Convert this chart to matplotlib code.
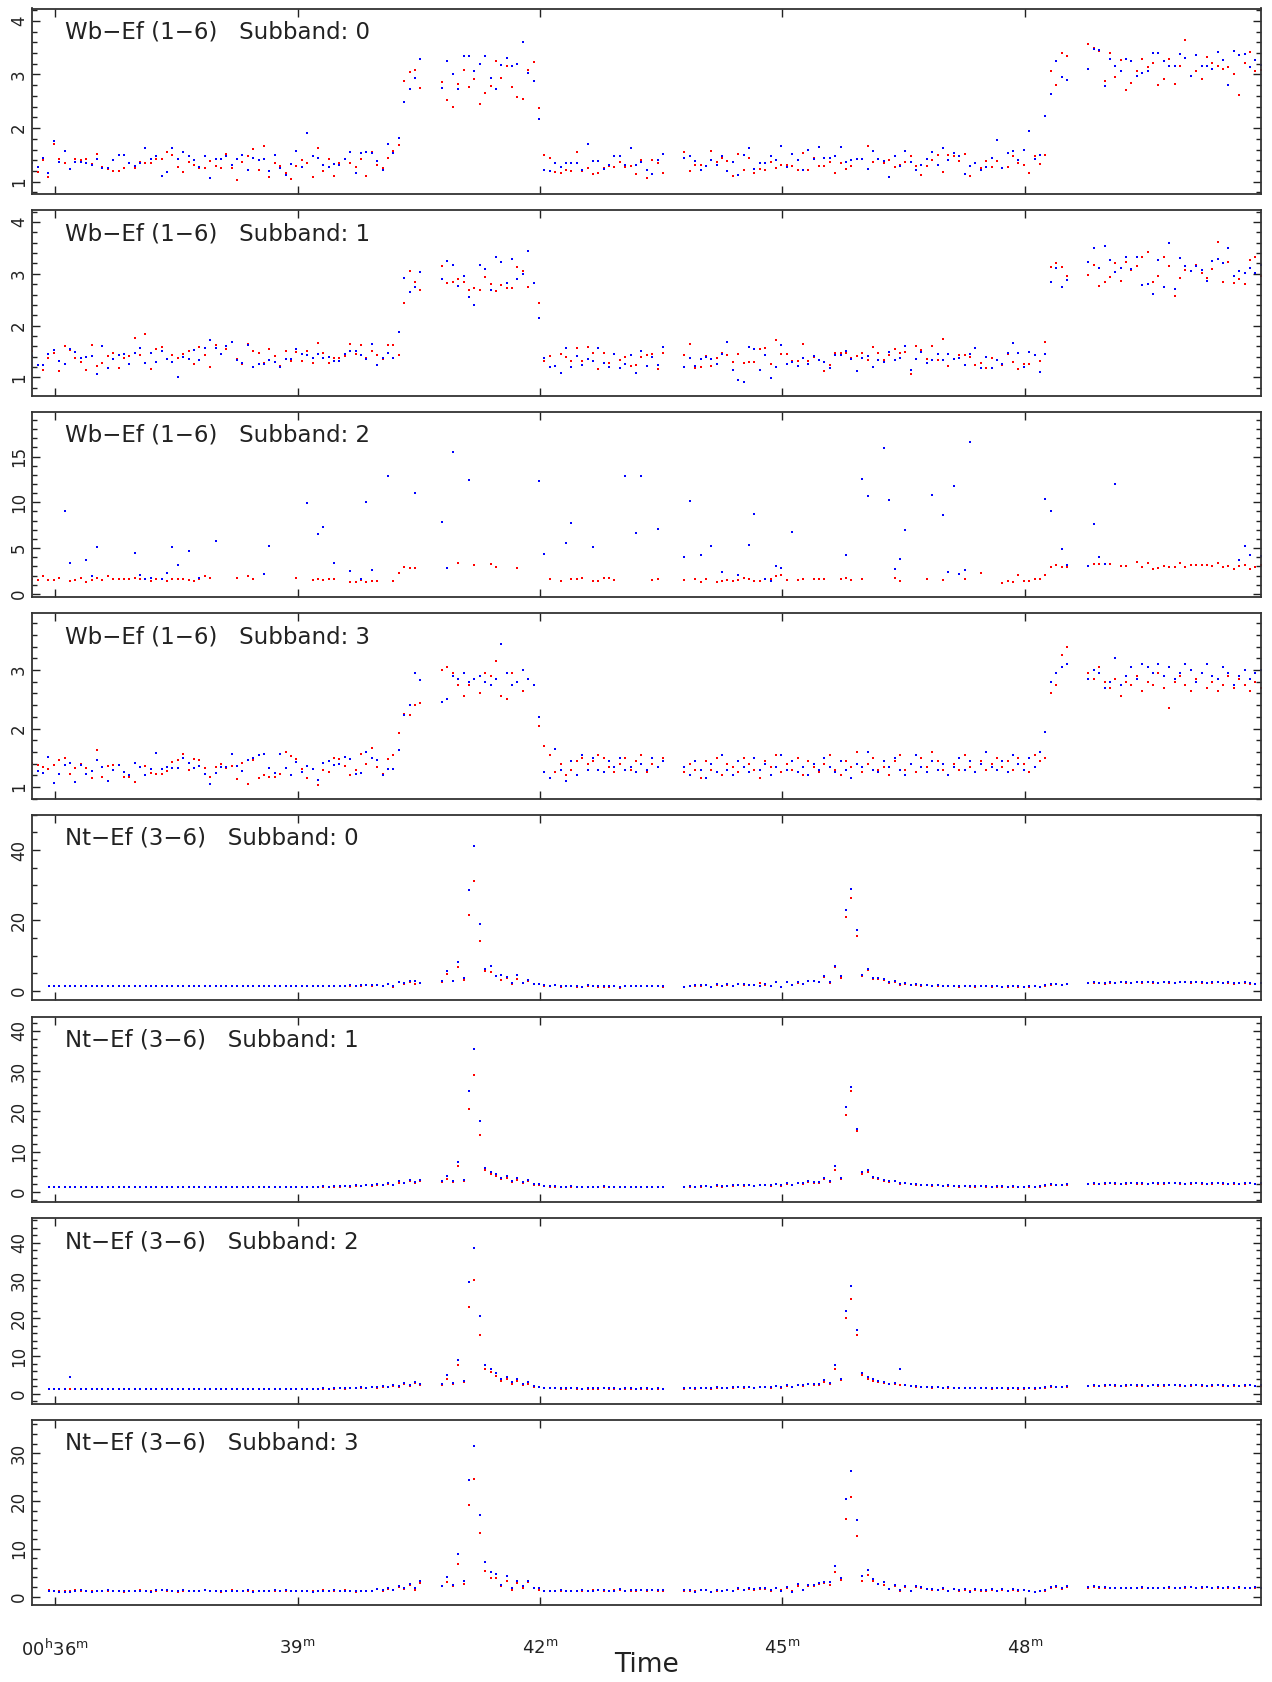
import numpy as np
import matplotlib
matplotlib.use("Agg")
import matplotlib.pyplot as plt
from matplotlib.ticker import MultipleLocator, FixedLocator

N = None
STEP_MIN = 4.0 / 60.0
WB_SEG_START = [35.719, 40.788, 43.786, 48.784]
NT_SEG_START = [35.920, 40.788, 43.786, 48.784]
X_RANGE = (35.719, 50.92)
X_TICKS = [36, 39, 42, 45, 48]
X_TICK_LABELS = [r"00$^{\rm h}$36$^{\rm m}$", r"39$^{\rm m}$", r"42$^{\rm m}$", r"45$^{\rm m}$", r"48$^{\rm m}$"]
TITLES = ["Wb\u2212Ef (1\u22126)   Subband: 0", "Wb\u2212Ef (1\u22126)   Subband: 1",
          "Wb\u2212Ef (1\u22126)   Subband: 2", "Wb\u2212Ef (1\u22126)   Subband: 3",
          "Nt\u2212Ef (3\u22126)   Subband: 0", "Nt\u2212Ef (3\u22126)   Subband: 1",
          "Nt\u2212Ef (3\u22126)   Subband: 2", "Nt\u2212Ef (3\u22126)   Subband: 3"]

# ---------------- Panel 1 : Wb-Ef Subband 0 ----------------
P1_BLUE = [
 [1.35,1.27,1.44,1.16,1.76,1.36,1.58,1.24,1.37,1.37,1.34,1.31,1.42,1.25,1.26,1.40,1.50,1.50,1.35,1.30,
  1.35,1.62,1.42,1.47,1.11,1.18,1.63,1.43,1.55,1.47,1.41,1.27,1.47,1.07,1.43,1.43,1.48,1.32,1.42,1.49,
  1.21,1.45,1.41,1.42,1.19,1.49,1.25,1.12,1.33,1.58,1.27,1.90,1.47,1.45,1.32,1.27,1.33,1.31,1.43,1.55,
  1.16,1.54,1.56,1.53,1.39,1.22,1.70,1.53,1.81,2.48,2.73,2.93,3.29],
 [2.75,3.25,3.01,2.73,3.34,3.35,3.07,3.20,3.35,2.94,2.73,3.17,3.30,3.16,3.19,3.61,3.03,2.88,2.16,
  1.22,1.19,1.34,1.27,1.35,1.35,1.34,1.22,1.70,1.39,1.38,1.24,1.31,1.47,1.48,1.32,1.63,1.31,1.37,1.22,1.15,1.40,1.51],
 [1.45,1.47,1.39,1.22,1.30,1.40,1.32,1.48,1.20,1.37,1.12,1.49,1.62,1.24,1.35,1.35,1.47,1.41,1.67,1.27,
  1.52,1.40,1.21,1.60,1.43,1.65,1.45,1.44,1.47,
  1.65,1.37,1.40,1.42,1.43,1.23,1.58,1.43,1.38,1.09,1.47,1.30,1.57,1.37,1.21,1.32,1.42,1.55,1.32,1.63,
  1.40,1.53,1.47,1.14,1.30,1.35,1.22,1.28,1.45,1.78,1.25,1.53,1.58,1.41,1.59,1.95,1.43,1.50,2.23,2.63,
  3.25,2.96,2.90],
 [3.11,3.47,3.45,2.79,3.29,3.15,3.07,3.29,3.26,2.98,3.03,3.06,3.40,3.40,3.26,3.15,3.15,3.39,3.30,2.98,
  3.36,3.15,3.15,3.11,3.41,3.27,2.81,3.43,3.36,3.39,3.14,3.27,3.17]]
P1_RED = [
 [1.35,1.18,1.40,1.09,1.71,1.42,1.34,1.23,1.43,1.40,1.42,1.33,1.51,1.28,1.24,1.20,1.19,1.26,1.34,1.25,
  1.37,1.34,1.34,1.43,1.42,1.56,1.49,1.27,1.18,1.36,1.32,1.26,1.25,1.39,1.30,1.25,1.52,1.25,1.03,1.36,
  1.47,1.61,1.21,1.67,1.09,1.34,1.29,1.17,1.05,1.30,1.41,1.35,1.09,1.63,1.19,1.43,1.10,1.35,1.42,1.34,
  1.27,1.42,1.10,1.55,1.31,1.25,1.45,1.57,1.68,2.87,3.04,3.09,2.74],
 [2.86,2.53,2.40,2.82,3.09,2.77,2.91,2.45,2.65,2.78,3.26,2.93,3.15,2.76,2.58,2.55,3.09,3.23,2.37,
  1.50,1.45,1.18,1.17,1.22,1.19,1.55,1.19,1.26,1.14,1.16,1.25,1.30,1.27,1.37,1.27,1.29,1.15,1.41,1.07,1.41,1.35,1.16],
 [1.56,1.20,1.32,1.32,1.29,1.57,1.37,1.45,1.39,1.10,1.52,1.21,1.45,1.16,1.24,1.22,1.36,1.26,1.32,1.32,
  1.30,1.22,1.53,1.22,1.45,1.30,1.30,1.37,1.17,
  1.34,1.24,1.30,1.42,1.43,1.66,1.36,1.42,1.35,1.41,1.28,1.32,1.36,1.47,1.29,1.12,1.30,1.41,1.50,1.18,
  1.50,1.48,1.38,1.52,1.10,1.34,1.26,1.39,1.28,1.39,1.25,1.27,1.48,1.34,1.32,1.17,1.47,1.33,1.50,3.06,
  2.80,3.40,3.35],
 [3.57,3.50,3.44,2.88,3.40,2.96,3.27,2.71,2.84,3.06,3.28,3.14,3.22,2.81,2.92,3.29,2.83,3.16,3.65,2.98,
  3.07,2.92,3.32,3.22,3.16,3.11,3.14,3.01,2.61,3.22,3.42,3.07,3.08]]

# ---------------- Panel 2 : Wb-Ef Subband 1 ----------------
P2_BLUE = [
 [1.41,1.24,1.24,1.46,1.53,1.32,1.26,1.54,1.50,1.38,1.39,1.42,1.07,1.60,1.18,1.35,1.44,1.46,1.26,1.48,
  1.57,1.28,1.47,1.29,1.51,1.36,1.30,1.01,1.40,1.35,1.53,1.33,1.56,1.72,1.57,1.46,1.60,1.68,1.33,1.27,
  1.63,1.20,1.26,1.26,1.34,1.30,1.20,1.36,1.36,1.54,1.45,1.43,1.37,1.45,1.38,1.40,1.31,1.31,1.46,1.51,
  1.51,1.44,1.36,1.64,1.24,1.38,1.47,1.37,1.87,2.92,2.64,2.75,3.04],
 [2.90,3.25,3.17,2.76,2.95,2.56,2.40,3.18,3.09,2.68,3.33,3.23,2.83,3.28,2.90,2.99,3.45,2.82,2.15,
  1.38,1.20,1.22,1.08,1.57,1.21,1.41,1.24,1.35,1.31,1.57,1.27,1.21,1.46,1.18,1.26,1.44,1.09,1.52,1.23,1.39,1.24,1.58],
 [1.20,1.37,1.22,1.36,1.40,1.35,1.26,1.46,1.68,1.15,0.96,0.92,1.58,1.54,1.15,1.44,0.99,1.20,1.63,1.26,
  1.30,1.23,1.37,1.26,1.41,1.34,1.29,1.18,1.43,
  1.43,1.52,1.36,1.13,1.38,1.42,1.20,1.33,1.30,1.49,1.33,1.38,1.60,1.14,1.35,1.49,1.28,1.33,1.46,1.33,
  1.45,1.35,1.38,1.25,1.46,1.56,1.19,1.39,1.19,1.33,1.26,1.47,1.67,1.47,1.20,1.50,1.44,1.10,1.46,2.84,
  3.12,2.74,2.89],
 [3.22,3.49,3.11,3.54,3.26,3.04,3.12,3.33,3.09,3.33,2.79,2.81,2.61,3.26,2.74,3.59,2.71,3.30,3.15,3.06,
  3.16,3.08,2.87,3.24,3.29,3.21,3.49,2.96,3.06,3.01,3.12,3.01,3.17]]
P2_RED = [
 [1.51,1.25,1.14,1.38,1.47,1.13,1.60,1.53,1.37,1.29,1.15,1.62,1.22,1.27,1.42,1.47,1.19,1.37,1.42,1.76,
  1.43,1.83,1.16,1.54,1.58,1.36,1.44,1.38,1.46,1.52,1.26,1.58,1.43,1.21,1.62,1.46,1.55,1.69,1.35,1.26,
  1.65,1.51,1.48,1.28,1.54,1.42,1.23,1.51,1.32,1.49,1.31,1.51,1.27,1.67,1.47,1.27,1.38,1.37,1.42,1.64,
  1.45,1.63,1.38,1.51,1.44,1.35,1.62,1.62,1.43,2.44,3.06,2.85,2.68],
 [3.15,2.83,2.85,2.90,2.85,2.69,2.73,2.69,2.93,2.81,2.67,2.78,2.72,2.72,3.14,3.06,2.75,2.82,2.43,
  1.31,1.41,1.22,1.45,1.40,1.31,1.56,1.31,1.59,1.47,1.17,1.47,1.28,1.45,1.33,1.40,1.22,1.24,1.40,1.44,1.46,1.17,1.47],
 [1.44,1.65,1.19,1.21,1.41,1.22,1.37,1.48,1.44,1.29,1.45,1.28,1.29,1.29,1.54,1.57,1.26,1.72,1.46,1.46,
  1.31,1.32,1.64,1.32,1.39,1.34,1.13,1.25,1.47,
  1.47,1.48,1.38,1.42,1.48,1.33,1.59,1.48,1.34,1.43,1.54,1.48,1.49,1.06,1.61,1.53,1.35,1.60,1.33,1.74,
  1.22,1.36,1.44,1.44,1.39,1.24,1.28,1.18,1.37,1.33,1.24,1.46,1.29,1.17,1.26,1.26,1.43,1.31,1.69,3.13,
  3.20,3.13,2.96],
 [2.97,3.17,2.76,2.85,2.94,3.20,2.87,3.23,3.08,3.15,3.33,3.42,2.85,2.96,3.33,3.15,2.57,2.91,3.07,3.06,
  3.18,3.01,2.92,3.10,3.62,2.85,3.23,2.83,2.90,2.81,3.27,3.33,2.96]]

# ---------------- Panel 3 : Wb-Ef Subband 2 (N = no value) ----------------
P3_BLUE = [
 [N,N,N,N,N,N,9.03,3.36,N,N,3.66,1.94,5.08,N,N,N,N,N,N,4.46,
  2.01,1.61,1.76,N,1.61,2.23,5.08,3.14,N,4.64,N,1.72,N,N,5.74,N,N,N,N,N,
  N,N,N,2.19,5.19,N,N,N,N,N,N,9.87,N,6.54,7.31,N,3.36,N,N,2.49,
  N,1.65,10.02,2.63,N,N,12.87,N,N,N,N,11.04,N],
 [7.90,2.85,15.5,N,N,12.43,N,N,N,N,N,N,N,N,N,N,N,N,12.32,4.31,
  N,N,N,5.59,7.75,N,N,N,5.12,N,N,N,N,N,12.87,N,6.69,12.83,N,N,7.06,N],
 [3.99,10.16,N,4.28,N,5.23,N,2.34,N,N,2.05,N,5.30,8.74,N,1.57,1.35,3.03,2.78,N,
  6.80,N,N,N,N,N,N,N,N,N,4.20,N,N,12.54,10.64,N,N,15.9,10.24,2.67,
  3.80,6.98,N,N,N,N,10.75,N,8.63,2.41,11.77,2.16,2.60,16.56,N,N,N,N,N,N,
  N,N,N,N,N,N,N,10.35,9.07,N,4.86,3.11],
 [3.07,7.68,4.02,3.22,N,11.99,N,N,N,N,N,N,N,N,N,N,N,N,N,N,
  N,N,N,N,N,N,N,N,3.73,5.27,4.20,N,4.13]]
P3_RED = [
 [1.61,1.54,1.94,1.46,1.46,1.72,N,1.35,1.46,1.68,1.32,1.46,1.68,1.50,1.90,1.57,1.57,1.57,1.57,1.76,
  1.57,1.57,1.39,1.61,1.61,1.35,1.61,1.65,1.65,1.54,1.39,1.61,1.90,1.72,N,N,N,N,1.68,N,
  1.90,1.65,N,N,N,N,N,N,N,1.72,N,N,1.46,1.61,1.46,1.65,1.61,N,N,1.32,
  1.32,1.46,1.28,1.43,1.43,N,N,1.43,2.27,2.92,2.78,2.78,N],
 [N,N,N,3.33,N,N,3.11,N,N,3.22,2.92,N,N,N,2.78,N,N,N,N,N,
  1.57,N,1.39,N,1.61,1.61,1.68,N,1.39,1.43,1.72,1.72,1.46,N,N,N,N,N,N,1.50,1.61,N],
 [1.54,N,1.65,1.32,1.65,N,1.24,1.39,1.46,1.35,1.50,1.72,1.61,1.39,1.39,N,1.61,1.90,2.05,1.50,
  N,1.50,1.61,N,1.61,1.65,1.65,N,N,1.61,1.72,1.46,N,1.65,N,N,N,N,N,1.72,
  1.43,N,N,N,N,1.61,N,N,1.54,N,N,N,1.65,N,N,2.27,N,N,N,1.13,
  1.35,1.32,2.05,1.39,1.39,1.61,1.65,2.05,2.92,3.11,2.89,2.92],
 [3.03,3.22,3.29,3.22,3.22,N,3.03,3.03,N,3.51,2.89,3.33,2.74,2.82,3.00,2.89,2.89,3.33,2.92,3.11,
  3.18,3.11,3.18,3.00,3.40,2.92,3.03,2.74,3.00,3.18,2.71,2.92,3.14]]

# ---------------- Panel 4 : Wb-Ef Subband 3 ----------------
P4_BLUE = [
 [1.61,1.27,1.24,1.51,1.07,1.22,1.38,1.41,1.08,1.37,1.23,1.27,1.47,1.34,1.10,1.29,1.38,1.26,1.20,1.41,
  1.35,1.20,1.31,1.58,1.31,1.35,1.32,1.32,1.49,1.41,1.32,1.36,1.23,1.05,1.24,1.34,1.35,1.56,1.36,1.27,
  1.47,1.49,1.55,1.56,1.32,1.24,1.57,1.32,1.21,1.43,1.26,1.36,1.31,1.12,1.42,1.44,1.38,1.39,1.52,1.48,
  1.22,1.24,1.60,1.50,1.46,1.20,1.31,1.31,1.63,2.24,2.40,2.95,2.83],
 [2.45,2.50,2.90,2.85,2.95,2.80,2.85,2.90,2.80,2.75,2.85,3.45,2.95,2.75,2.80,3.00,2.85,2.75,2.20,
  1.25,1.15,1.65,1.30,1.10,1.45,1.20,1.55,1.30,1.50,1.30,1.25,1.45,1.35,1.50,1.30,1.35,1.25,1.40,1.30,1.50,1.35,1.45],
 [1.35,1.20,1.45,1.30,1.15,1.40,1.25,1.55,1.30,1.20,1.45,1.35,1.25,1.50,1.30,1.40,1.20,1.35,1.55,1.30,
  1.45,1.25,1.35,1.20,1.40,1.30,1.50,1.35,1.25,1.45,1.30,1.15,1.40,1.35,1.60,1.30,1.25,1.45,1.35,1.50,
  1.30,1.20,1.40,1.55,1.35,1.25,1.45,1.30,1.40,1.20,1.35,1.50,1.30,1.45,1.25,1.40,1.60,1.35,1.30,1.45,
  1.25,1.55,1.40,1.30,1.50,1.35,1.60,1.95,2.80,2.95,3.05,3.10],
 [2.85,3.00,2.95,2.70,2.80,3.20,2.75,2.90,3.05,2.85,3.10,3.05,2.95,3.10,2.90,3.05,2.85,2.95,3.10,3.00,
  2.80,2.95,3.10,2.90,2.85,3.05,2.95,2.75,2.90,3.00,2.85,2.95,3.00]]
P4_RED = [
 [1.42,1.38,1.34,1.31,1.38,1.46,1.49,1.22,1.32,1.40,1.33,1.16,1.63,1.18,1.36,1.37,1.38,1.18,1.18,1.09,
  1.34,1.36,1.24,1.22,1.22,1.28,1.43,1.47,1.56,1.29,1.48,1.46,1.32,1.18,1.34,1.40,1.32,1.36,1.14,1.41,
  1.06,1.47,1.16,1.20,1.18,1.17,1.22,1.60,1.53,1.48,1.31,1.16,1.31,1.04,1.29,1.26,1.49,1.48,1.36,1.21,
  1.29,1.57,1.39,1.66,1.34,1.22,1.48,1.54,1.93,2.25,2.23,2.41,2.43],
 [3.00,3.05,2.95,2.75,2.55,2.75,2.85,2.60,2.95,2.90,3.15,2.55,2.50,2.95,2.80,2.65,2.85,2.75,2.05,
  1.70,1.55,1.25,1.40,1.20,1.30,1.45,1.50,1.40,1.45,1.55,1.50,1.35,1.25,1.40,1.50,1.30,1.45,1.55,1.25,1.40,1.35,1.50],
 [1.25,1.40,1.30,1.15,1.45,1.30,1.50,1.20,1.40,1.35,1.25,1.50,1.40,1.30,1.15,1.45,1.35,1.55,1.25,1.40,
  1.30,1.50,1.20,1.45,1.35,1.25,1.40,1.55,1.30,1.20,1.45,1.35,1.60,1.25,1.40,1.50,1.30,1.35,1.20,1.45,
  1.55,1.30,1.40,1.25,1.50,1.35,1.60,1.45,1.30,1.20,1.40,1.30,1.55,1.35,1.25,1.45,1.30,1.40,1.50,1.35,
  1.45,1.30,1.50,1.40,1.25,1.55,1.45,1.50,2.60,2.75,3.25,3.40],
 [2.95,2.85,3.05,2.80,2.70,2.85,2.55,2.80,2.75,2.90,2.65,2.80,2.75,2.95,2.70,2.35,2.80,2.90,2.75,2.65,
  2.85,2.95,2.70,2.80,2.65,2.75,2.90,2.70,2.85,2.75,2.65,2.80,2.70]]

# ---------------- Panel 5 : Nt-Ef Subband 0 ----------------
P5_BLUE = [
 [1.4,1.5,1.3,1.4,1.5,1.4,1.3,1.5,1.4,1.4,1.5,1.3,1.4,1.5,1.4,1.3,1.4,1.5,1.4,1.4,
  1.3,1.5,1.4,1.4,1.5,1.3,1.4,1.4,1.5,1.4,1.4,1.3,1.5,1.4,1.4,1.5,1.4,1.3,1.4,1.5,
  1.4,1.4,1.5,1.4,1.3,1.4,1.5,1.4,1.4,1.3,1.5,1.4,1.4,1.5,1.4,1.4,1.6,1.5,1.6,1.7,
  1.6,1.8,1.5,2.0,1.3,2.6,2.2,2.8,2.7,2.3],
 [2.75,5.7,2.75,8.1,3.8,28.7,41.1,19.1,6.3,7.2,4.1,4.6,3.9,2.2,4.6,2.2,3.1,2.1,2.1,
  1.6,1.5,1.7,1.3,1.4,1.4,1.3,1.2,1.7,1.4,1.3,1.3,1.3,1.4,1.0,1.5,1.5,1.4,1.4,1.4,1.4,1.4,1.3],
 [1.2,1.4,1.6,1.6,1.7,1.2,1.9,1.4,1.9,1.4,2.1,1.9,1.7,1.7,1.5,1.9,1.5,2.6,1.2,2.6,
  1.7,2.4,2.1,2.9,2.9,2.6,4.3,2.5,7.0,4.3,23.1,28.9,17.4,4.6,6.3,3.6,3.6,3.4,2.6,2.9,
  2.0,2.2,1.8,1.9,1.6,1.7,1.5,1.6,1.4,1.5,1.4,1.3,1.5,1.4,1.3,1.4,1.5,1.3,1.4,1.2,
  1.3,1.4,1.3,1.2,1.3,1.4,1.2,1.6,1.9,2.0,1.8,2.1],
 [2.3,2.4,2.3,2.2,2.4,2.3,2.5,2.4,2.3,2.5,2.4,2.6,2.4,2.3,2.5,2.4,2.3,2.5,2.6,2.4,
  2.5,2.4,2.3,2.4,2.5,2.3,2.4,2.2,2.3,2.4,2.2,2.1,2.3]]
P5_RED = [
 [1.3,1.4,1.3,1.3,1.4,1.4,1.3,1.4,1.3,1.4,1.4,1.3,1.3,1.4,1.4,1.3,1.3,1.4,1.4,1.3,
  1.3,1.4,1.3,1.4,1.4,1.3,1.3,1.4,1.4,1.3,1.4,1.3,1.4,1.3,1.4,1.4,1.3,1.3,1.4,1.4,
  1.3,1.4,1.4,1.3,1.3,1.4,1.4,1.3,1.4,1.3,1.4,1.3,1.4,1.4,1.3,1.4,1.5,1.4,1.5,1.6,
  1.5,1.7,1.3,1.9,1.2,2.4,2.0,2.5,2.0,2.3],
 [2.6,4.7,2.75,6.7,3.2,21.6,31.3,14.1,5.7,5.3,4.1,3.2,3.8,2.1,3.5,2.2,2.75,2.1,2.1,
  1.5,1.4,1.6,1.2,1.3,1.3,1.2,1.1,1.5,1.3,1.2,1.2,1.2,1.3,0.9,1.4,1.4,1.3,1.3,1.3,1.3,1.3,1.2],
 [1.1,1.3,1.5,1.5,1.6,1.1,1.8,1.3,1.8,1.3,2.0,1.8,1.6,1.6,2.3,1.8,1.4,2.4,1.1,2.5,
  1.6,2.2,2.0,2.7,2.7,2.4,3.9,2.3,6.7,3.8,20.9,26.4,15.7,4.2,5.9,3.4,3.4,3.1,2.2,2.6,
  1.8,2.0,1.7,1.8,1.5,1.6,1.4,1.5,1.3,1.4,1.3,1.2,1.4,1.3,1.2,1.3,1.4,1.2,1.3,1.1,
  1.2,1.3,1.2,1.1,1.2,1.3,1.1,1.5,1.8,1.9,1.7,2.0],
 [2.2,2.3,2.2,2.1,2.3,2.2,2.4,2.3,2.2,2.4,2.3,2.5,2.3,2.2,2.4,2.3,2.2,2.4,2.5,2.3,
  2.4,2.3,2.2,2.3,2.4,2.2,2.3,2.1,2.2,2.3,2.1,2.0,2.2]]

# ---------------- Panel 6 : Nt-Ef Subband 1 ----------------
P6_BLUE = [
 [1.2,1.3,1.2,1.2,1.3,1.2,1.1,1.3,1.2,1.2,1.3,1.2,1.2,1.1,1.2,1.3,1.2,1.2,1.3,1.2,
  1.1,1.2,1.3,1.2,1.2,1.1,1.2,1.3,1.2,1.2,1.2,1.3,1.2,1.1,1.2,1.2,1.3,1.2,1.2,1.3,
  1.2,1.2,1.1,1.3,1.2,1.2,1.3,1.2,1.2,1.3,1.3,1.4,1.3,1.4,1.4,1.5,1.4,1.6,1.5,1.7,
  1.6,1.9,1.7,2.2,1.8,2.6,2.3,3.0,2.4,2.9],
 [2.6,4.0,2.7,7.5,3.0,25.0,35.5,17.5,6.0,5.0,4.5,3.5,4.0,2.8,3.5,2.4,2.9,2.0,1.9,
  1.5,1.4,1.4,1.3,1.3,1.4,1.3,1.2,1.3,1.3,1.3,1.4,1.3,1.3,1.3,1.2,1.3,1.3,1.2,1.3,1.3,1.2,1.2],
 [1.3,1.4,1.3,1.4,1.5,1.3,1.6,1.4,1.5,1.6,1.7,1.6,1.7,1.5,1.8,1.7,1.6,2.0,1.6,2.2,
  1.8,2.3,2.1,2.6,2.4,2.5,3.5,2.8,6.5,3.5,21.0,26.0,15.5,5.0,5.5,3.8,3.5,3.0,2.6,2.8,
  2.2,2.3,2.0,1.9,1.8,1.7,1.6,1.7,1.5,1.6,1.5,1.4,1.5,1.4,1.4,1.5,1.4,1.3,1.4,1.4,
  1.3,1.4,1.3,1.3,1.4,1.3,1.4,1.6,1.9,1.8,1.7,1.9],
 [2.0,2.1,2.0,2.1,2.2,2.1,2.0,2.1,2.2,2.1,2.1,2.0,2.2,2.1,2.1,2.3,2.2,2.1,2.0,2.1,
  2.2,2.1,2.0,2.1,2.2,2.1,2.0,2.1,2.0,2.1,2.2,2.0,2.1]]
P6_RED = [
 [1.1,1.2,1.2,1.1,1.2,1.1,1.1,1.2,1.1,1.2,1.2,1.1,1.1,1.1,1.2,1.2,1.1,1.2,1.2,1.1,
  1.1,1.1,1.2,1.2,1.1,1.1,1.2,1.2,1.1,1.1,1.2,1.2,1.1,1.1,1.1,1.2,1.2,1.1,1.2,1.2,
  1.1,1.1,1.1,1.2,1.1,1.2,1.2,1.1,1.1,1.2,1.2,1.3,1.2,1.3,1.3,1.4,1.3,1.5,1.4,1.6,
  1.5,1.7,1.6,2.0,1.7,2.3,2.1,2.6,2.2,2.6],
 [2.4,3.2,2.5,6.5,2.7,20.5,29.0,14.0,5.5,4.4,4.0,3.1,3.5,2.5,3.0,2.2,2.6,1.8,1.7,
  1.4,1.3,1.3,1.2,1.2,1.3,1.2,1.1,1.2,1.2,1.2,1.3,1.2,1.2,1.2,1.1,1.2,1.2,1.1,1.2,1.2,1.1,1.1],
 [1.2,1.3,1.2,1.3,1.4,1.2,1.5,1.3,1.4,1.5,1.6,1.5,1.6,1.4,1.7,1.6,1.5,1.9,1.5,2.0,
  1.7,2.1,1.9,2.4,2.2,2.3,3.1,2.5,5.5,3.2,19.0,25.0,15.0,4.5,5.0,3.4,3.2,2.7,2.4,2.6,
  2.0,2.1,1.9,1.8,1.7,1.6,1.5,1.6,1.4,1.5,1.4,1.3,1.4,1.3,1.3,1.4,1.3,1.2,1.3,1.3,
  1.2,1.3,1.2,1.2,1.3,1.2,1.3,1.5,1.8,1.7,1.6,1.8],
 [1.9,2.0,1.9,2.0,2.1,2.0,1.9,2.0,2.1,2.0,2.0,1.9,2.1,2.0,2.0,2.2,2.1,2.0,1.9,2.0,
  2.1,2.0,1.9,2.0,2.1,2.0,1.9,2.0,1.9,2.0,2.1,1.9,2.0]]

# ---------------- Panel 7 : Nt-Ef Subband 2 ----------------
P7_BLUE = [
 [1.3,1.2,1.3,1.2,4.5,1.3,1.2,1.3,1.3,1.2,1.3,1.2,1.3,1.3,1.2,1.3,1.2,1.3,1.2,1.3,
  1.3,1.2,1.3,1.2,1.3,1.3,1.2,1.3,1.3,1.2,1.3,1.2,1.3,1.2,1.3,1.3,1.2,1.3,1.2,1.3,
  1.3,1.2,1.3,1.3,1.2,1.3,1.2,1.3,1.3,1.2,1.3,1.4,1.3,1.4,1.5,1.4,1.6,1.5,1.7,1.6,
  1.8,1.7,2.0,1.8,2.3,2.0,2.8,2.2,3.2,2.6],
 [2.5,5.0,2.8,9.0,3.5,29.5,38.5,20.5,7.5,6.5,5.5,4.0,4.5,3.0,3.8,2.5,3.0,2.0,1.9,
  1.6,1.5,1.5,1.4,1.4,1.5,1.4,1.3,1.4,1.4,1.4,1.5,1.4,1.4,1.3,1.4,1.4,1.3,1.4,1.4,1.3,1.4,1.3],
 [1.4,1.5,1.4,1.5,1.6,1.4,1.7,1.5,1.6,1.7,1.8,1.7,1.8,1.6,1.9,1.8,1.7,2.1,1.7,2.3,
  1.9,2.4,2.2,2.7,2.5,2.6,3.6,2.9,7.5,4.0,22.0,28.5,17.0,5.5,4.5,3.8,3.5,3.0,2.7,2.9,
  6.5,2.4,2.1,2.0,1.9,1.8,1.7,1.8,1.6,1.7,1.6,1.5,1.6,1.5,1.5,1.6,1.5,1.4,1.5,1.5,
  1.4,1.5,1.4,1.4,1.5,1.4,1.5,1.7,2.0,1.9,1.8,2.0],
 [2.1,2.2,2.1,2.2,2.3,2.2,2.1,2.2,2.3,2.2,2.2,2.1,2.3,2.2,2.2,2.4,2.3,2.2,2.1,2.2,
  2.3,2.2,2.1,2.2,2.3,2.2,2.1,2.2,2.1,2.2,2.3,2.1,2.2]]
P7_RED = [
 [1.2,1.2,1.3,1.2,1.2,1.2,1.2,1.3,1.2,1.2,1.2,1.2,1.3,1.2,1.2,1.2,1.2,1.3,1.2,1.2,
  1.2,1.2,1.3,1.2,1.2,1.2,1.2,1.3,1.2,1.2,1.2,1.2,1.3,1.2,1.2,1.2,1.2,1.3,1.2,1.2,
  1.2,1.2,1.3,1.2,1.2,1.2,1.2,1.3,1.2,1.2,1.2,1.3,1.2,1.3,1.4,1.3,1.5,1.4,1.6,1.5,
  1.7,1.6,1.8,1.7,2.1,1.8,2.5,2.0,2.8,2.4],
 [2.3,4.0,2.6,7.5,3.0,23.0,30.0,15.5,6.5,5.8,4.8,3.5,4.0,2.7,3.3,2.3,2.7,1.9,1.8,
  1.5,1.4,1.4,1.3,1.3,1.4,1.3,1.2,1.3,1.3,1.3,1.4,1.3,1.3,1.2,1.3,1.3,1.2,1.3,1.3,1.2,1.3,1.2],
 [1.3,1.4,1.3,1.4,1.5,1.3,1.6,1.4,1.5,1.6,1.7,1.6,1.7,1.5,1.8,1.7,1.6,2.0,1.6,2.1,
  1.8,2.2,2.0,2.5,2.3,2.4,3.2,2.6,6.5,3.6,20.0,25.0,15.5,5.0,4.0,3.4,3.2,2.8,2.5,2.7,
  2.3,2.2,2.0,1.9,1.8,1.7,1.6,1.7,1.5,1.6,1.5,1.4,1.5,1.4,1.4,1.5,1.4,1.3,1.4,1.4,
  1.3,1.4,1.3,1.3,1.4,1.3,1.4,1.6,1.9,1.8,1.7,1.9],
 [2.0,2.1,2.0,2.1,2.2,2.1,2.0,2.1,2.2,2.1,2.1,2.0,2.2,2.1,2.1,2.3,2.2,2.1,2.0,2.1,
  2.2,2.1,2.0,2.1,2.2,2.1,2.0,2.1,2.0,2.1,2.2,2.0,2.1]]

# ---------------- Panel 8 : Nt-Ef Subband 3 ----------------
P8_BLUE = [
 [1.2,1.1,1.0,1.0,1.0,1.2,1.3,1.2,1.0,1.1,1.1,1.3,1.2,1.1,1.1,1.1,1.2,1.2,1.2,1.0,
  1.3,1.4,1.3,1.1,1.1,1.3,1.1,1.2,1.1,1.4,1.2,1.1,1.1,1.2,1.2,1.2,1.1,1.3,1.0,1.2,
  1.1,1.2,1.3,1.1,1.3,1.2,1.1,1.2,1.1,1.0,1.2,1.2,1.1,1.3,1.2,1.2,1.1,1.1,1.2,1.1,
  1.1,1.6,1.3,1.8,1.3,2.2,1.7,2.7,1.9,3.3],
 [2.2,4.2,2.5,8.9,3.3,24.4,31.4,17.1,7.2,5.2,4.8,2.5,4.3,1.8,3.2,2.2,3.2,1.8,1.7,
  1.2,1.2,1.1,1.3,1.2,1.1,1.2,1.3,1.2,1.2,1.4,1.3,1.2,1.2,1.5,1.1,1.3,1.3,1.4,1.3,1.4,1.3,1.3],
 [1.3,1.3,1.0,1.4,1.4,0.9,1.3,1.2,1.4,1.2,1.7,1.4,1.7,1.5,1.7,1.7,1.3,1.8,1.2,2.0,
  1.0,2.6,1.4,2.5,2.4,2.9,3.0,3.1,6.4,3.8,20.4,26.3,16.1,4.3,5.6,3.7,2.7,3.0,1.6,2.5,
  1.3,2.2,1.1,2.2,2.1,1.6,1.5,1.4,1.7,1.1,1.6,1.3,1.5,1.0,1.5,1.3,1.3,1.5,1.2,1.5,
  1.1,1.5,1.3,1.4,1.1,1.0,1.1,1.3,2.0,2.2,1.7,2.2],
 [2.0,2.2,2.0,2.0,1.9,1.9,1.8,1.8,1.9,1.9,2.0,1.9,1.9,1.7,1.9,2.0,1.8,1.9,2.0,2.1,
  1.9,2.0,2.1,1.9,2.0,1.9,2.0,1.8,2.0,1.9,1.9,2.0,1.9]]
P8_RED = [
 [1.3,1.2,1.1,1.1,1.2,1.3,1.2,1.1,1.1,1.2,1.2,1.2,1.1,1.2,1.0,1.2,1.1,1.3,1.1,1.1,
  1.2,1.3,1.2,1.2,1.0,1.2,1.2,1.1,1.2,1.3,1.1,1.2,1.0,1.1,1.3,1.1,1.2,1.2,1.1,1.1,
  1.2,1.1,1.2,1.2,1.2,1.1,1.2,1.1,1.2,1.1,1.1,1.3,1.2,1.2,1.1,1.3,1.2,1.0,1.1,1.2,
  1.2,1.5,1.2,1.6,1.4,2.0,1.5,2.4,1.4,2.8],
 [2.2,3.1,2.2,6.8,2.7,19.2,24.5,13.2,5.4,3.9,3.9,2.2,3.3,1.4,2.8,1.7,3.0,1.8,1.4,
  1.1,1.1,1.2,1.2,1.1,1.2,1.1,1.2,1.1,1.3,1.3,1.2,1.1,1.3,1.4,1.2,1.2,1.2,1.3,1.2,1.3,1.2,1.2],
 [1.2,1.2,1.1,1.3,1.3,1.0,1.2,1.1,1.3,1.2,1.6,1.3,1.6,1.4,1.6,1.6,1.2,1.7,1.3,1.8,
  1.1,2.2,1.3,2.3,2.2,2.6,2.8,2.5,5.2,3.5,16.2,20.9,12.7,3.3,4.6,3.3,2.6,2.5,1.5,2.3,
  1.2,2.0,1.2,2.0,1.9,1.5,1.4,1.3,1.6,1.1,1.5,1.2,1.4,1.1,1.4,1.2,1.2,1.4,1.1,1.4,
  1.1,1.4,1.2,1.3,1.2,1.0,1.1,1.2,1.8,2.0,1.6,2.0],
 [1.7,2.1,1.9,1.9,1.8,1.8,1.7,1.7,1.8,1.9,1.9,1.8,1.8,1.7,1.8,1.9,1.7,1.8,1.9,2.0,
  1.8,1.9,2.0,1.8,1.9,1.8,1.9,1.7,1.9,1.8,1.8,1.9,1.8]]

Y_LIMITS = [(0.77, 4.23), (0.65, 4.23), (-0.37, 19.9), (0.80, 3.97),
            (-2.7, 50.0), (-2.5, 43.5), (-2.6, 46.5), (-1.8, 37.0)]
Y_MAJOR = [1, 1, 5, 1, 20, 10, 10, 10]
Y_MINOR = [0.2, 0.2, 1, 0.2, 5, 2, 2, 2]


def series(starts, segments):
    ts, vs = [], []
    for s, vals in zip(starts, segments):
        ts.append(s + STEP_MIN * np.arange(len(vals)))
        vs.append(np.array(vals, dtype=float))
    return np.concatenate(ts), np.concatenate(vs)


panels = [(P1_RED, P1_BLUE, WB_SEG_START), (P2_RED, P2_BLUE, WB_SEG_START),
          (P3_RED, P3_BLUE, WB_SEG_START), (P4_RED, P4_BLUE, WB_SEG_START),
          (P5_RED, P5_BLUE, NT_SEG_START), (P6_RED, P6_BLUE, NT_SEG_START),
          (P7_RED, P7_BLUE, NT_SEG_START), (P8_RED, P8_BLUE, NT_SEG_START)]

W, H = 1272, 1682
fig = plt.figure(figsize=(W / 100, H / 100), dpi=100)
left_px, right_px = 32.3, 1261.0
for i, (red, blue, starts) in enumerate(panels):
    top = 8.5 + 201.6 * i
    hgt = 185.5
    ax = fig.add_axes([left_px / W, 1 - (top + hgt) / H, (right_px - left_px) / W, hgt / H])
    tr, vr = series(starts, red)
    tb, vb = series(starts, blue)
    ax.plot(tr, vr, ls='none', marker='s', ms=1.9, mew=0, color='#ff0000')
    ax.plot(tb, vb, ls='none', marker='s', ms=1.9, mew=0, color='#0000ff')
    ax.set_xlim(*X_RANGE)
    ax.set_ylim(*Y_LIMITS[i])
    ax.xaxis.set_major_locator(FixedLocator(X_TICKS))
    ax.yaxis.set_major_locator(MultipleLocator(Y_MAJOR[i]))
    ax.yaxis.set_minor_locator(MultipleLocator(Y_MINOR[i]))
    ax.tick_params(which='both', direction='in', top=True, right=True, width=1.0, color='#222222')
    ax.tick_params(which='major', length=6)
    ax.tick_params(which='minor', length=3.5)
    ax.tick_params(axis='y', labelsize=12, pad=3, labelcolor='#222222')
    for lab in ax.get_yticklabels():
        lab.set_rotation(90)
        lab.set_va('center')
    for sp in ax.spines.values():
        sp.set_linewidth(1.3)
        sp.set_color('#333333')
    if i < 7:
        ax.set_xticklabels([])
    else:
        ax.set_xticklabels(X_TICK_LABELS, fontsize=13, color='#222222')
        ax.tick_params(axis='x', pad=24)
    ax.text(0.0266, 0.838, TITLES[i], transform=ax.transAxes, fontsize=16.5,
            ha='left', va='baseline', color='#222222')

fig.text(647 / W, 1 - 1665 / H, 'Time', ha='center', va='center', fontsize=19, color='#222222')
fig.savefig('out.png', dpi=100)
